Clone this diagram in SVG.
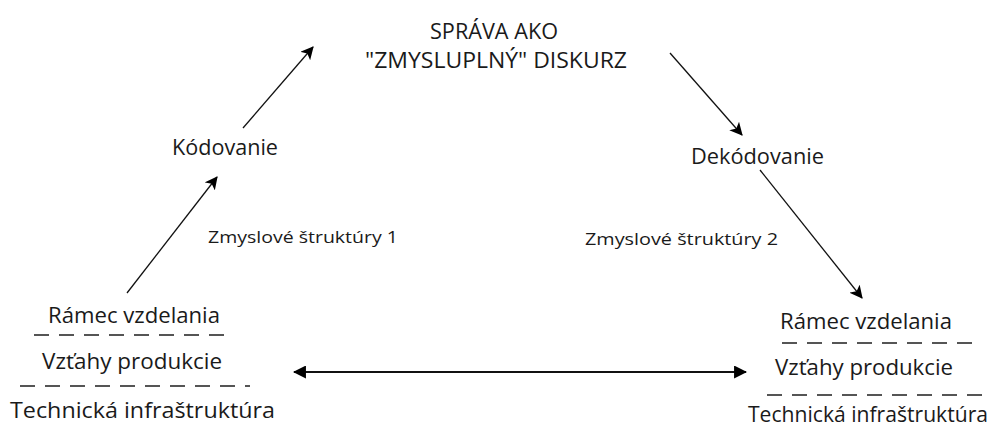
<svg xmlns="http://www.w3.org/2000/svg" width="995" height="428" viewBox="0 0 995 428">
<style>
text{font-family:"Open Sans","Noto Sans","Liberation Sans",sans-serif;fill:#1a1a1a;}
.t{font-size:21.5px;}
.s{font-size:16px;}
.big{font-size:21px;}
.dash{stroke:#1e1e1e;stroke-width:1.5;stroke-dasharray:15 10;fill:none;}
.c{stroke:#111;stroke-width:1.3;fill:none;}
.h{stroke:#111;stroke-width:2;fill:none;}
</style>
<defs>
<marker id="ah" viewBox="0 0 12 12" refX="11" refY="6" markerWidth="13" markerHeight="13" markerUnits="userSpaceOnUse" orient="auto-start-reverse">
<path d="M0,0 L12,6 L0,12 L3,6 Z" fill="#000"/>
</marker>
<marker id="ah2" viewBox="0 0 12 12" refX="11" refY="6" markerWidth="13" markerHeight="13" markerUnits="userSpaceOnUse" orient="auto-start-reverse">
<path d="M0,0 L12,6 L0,12 Z" fill="#000"/>
</marker>
</defs>
<rect width="995" height="428" fill="#fff"/>
<g id="connectors">
<line class="c" x1="127" y1="293" x2="217" y2="177" marker-end="url(#ah)"/>
<line class="c" x1="243" y1="128" x2="313" y2="47" marker-end="url(#ah)"/>
<line class="c" x1="670" y1="53" x2="742" y2="135" marker-end="url(#ah)"/>
<line class="c" x1="760" y1="170" x2="862" y2="298" marker-end="url(#ah)"/>
<line class="h" x1="294" y1="372" x2="746" y2="372" marker-start="url(#ah2)" marker-end="url(#ah2)"/>
</g>
<g id="sprava">
<text class="big" x="494" y="39" text-anchor="middle" textLength="128" lengthAdjust="spacingAndGlyphs">SPRÁVA AKO</text>
<text class="big" x="496" y="68" text-anchor="middle" textLength="262" lengthAdjust="spacingAndGlyphs">"ZMYSLUPLNÝ" DISKURZ</text>
</g>
<g id="kodovanie">
<text class="t" x="172" y="155" textLength="106" lengthAdjust="spacingAndGlyphs">Kódovanie</text>
</g>
<g id="dekodovanie">
<text class="t" x="691" y="164" textLength="133" lengthAdjust="spacingAndGlyphs">Dekódovanie</text>
</g>
<g id="struktury1">
<text class="s" x="208" y="243" textLength="190" lengthAdjust="spacingAndGlyphs">Zmyslové štruktúry 1</text>
</g>
<g id="struktury2">
<text class="s" x="585" y="245" textLength="193" lengthAdjust="spacingAndGlyphs">Zmyslové štruktúry 2</text>
</g>
<g id="left-stack">
<text class="t" x="48" y="323" textLength="172" lengthAdjust="spacingAndGlyphs">Rámec vzdelania</text>
<line class="dash" x1="34" y1="335" x2="232" y2="335"/>
<text class="t" x="42" y="369" textLength="180" lengthAdjust="spacingAndGlyphs">Vzťahy produkcie</text>
<line class="dash" x1="20" y1="386" x2="250" y2="386"/>
<text class="t" x="10" y="418" textLength="265" lengthAdjust="spacingAndGlyphs">Technická infraštruktúra</text>
</g>
<g id="right-stack">
<text class="t" x="780" y="329" textLength="172" lengthAdjust="spacingAndGlyphs">Rámec vzdelania</text>
<line class="dash" x1="782" y1="343" x2="977" y2="343"/>
<text class="t" x="775" y="375" textLength="178" lengthAdjust="spacingAndGlyphs">Vzťahy produkcie</text>
<line class="dash" x1="767" y1="395" x2="988" y2="395"/>
<text class="t" x="748" y="422" textLength="240" lengthAdjust="spacingAndGlyphs">Technická infraštruktúra</text>
</g>
</svg>
